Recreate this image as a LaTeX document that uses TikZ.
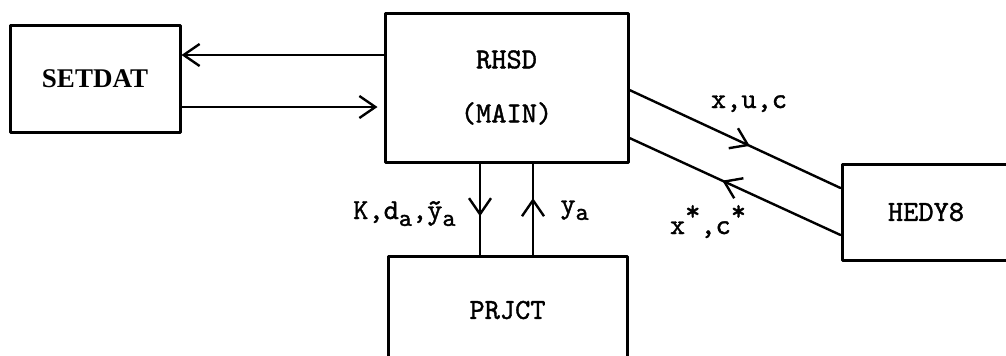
\documentclass[tikz,border=0pt]{standalone}
\usepackage{fontspec}
\usetikzlibrary{arrows.meta,decorations.markings}
\newfontfamily\typew{lmmono10-regular}[Extension=.otf,FakeBold=1.3]
\newfontfamily\heavyserif{Liberation Serif}
\newcommand{\lowsub}[1]{\raisebox{-0.55ex}{\fontsize{12.5}{14}\selectfont#1}}
\newcommand{\highstar}{\raisebox{1.1ex}{*}}

\begin{document}
\begin{tikzpicture}[
  x=0.5pt,
  y=-0.5pt,
  line join=round,
  line cap=round,
  font=\typew\fontsize{14.5}{17}\selectfont,
  module/.style={draw,line width=1.5pt,inner sep=0pt},
  flow/.style={line width=1.2pt},
  vtip/.tip={Straight Barb[length=8pt,width=11pt,line width=1.2pt]},
  midtip/.style={postaction={decorate},decoration={markings,
    mark=at position #1 with {\arrow{vtip}}}},
  tag/.style={inner sep=1pt}
]
  \useasboundingbox (0,0) rectangle (1006,355);

  % Program modules; PRJCT and HEDY8 run past the page edge.
  \node[module,minimum width=85pt,minimum height=53.5pt,font=\heavyserif\bfseries\fontsize{13.5}{16}\selectfont] (setdat) at (95,78.5) {SETDAT};
  \node[module,minimum width=121.5pt,minimum height=74.5pt,align=center] (rhsd) at (506.5,87.5) {RHSD\\[10pt](MAIN)};
  \node[module,minimum width=119.5pt,minimum height=54pt] (prjct) at (507.5,310) {PRJCT};
  \node[module,minimum width=84pt,minimum height=48pt] (hedy) at (926,212) {HEDY8};

  % Data exchange with SETDAT.
  \draw[flow,-vtip] (rhsd.west |- 0,55) -- (setdat.east |- 0,55);
  \draw[flow,-vtip,shorten >=3pt] (setdat.east |- 0,107) -- (rhsd.west |- 0,107);

  % Data exchange with PRJCT.
  \draw[flow,midtip=0.58] (rhsd.south -| 480,0) -- (prjct.north -| 480,0);
  \draw[flow,midtip=0.62] (prjct.north -| 533,0) -- (rhsd.south -| 533,0);
  \node[tag,anchor=base east] (down) at (458,219) {K,d\lowsub{a},\~{y}\lowsub{a}};
  \node[tag,anchor=base west] (up) at (558,213) {y\lowsub{a}};

  % Data exchange with HEDY8.
  \draw[flow,midtip=0.57] (rhsd.east |- 0,90) -- (hedy.west |- 0,188);
  \draw[flow,midtip=0.56] (hedy.west |- 0,235) -- (rhsd.east |- 0,138);
  \node[tag,anchor=base] (send) at (749,108) {x,u,c};
  \node[tag,anchor=base] (recv) at (708,234) {x\highstar,c\highstar};
\end{tikzpicture}
\end{document}
